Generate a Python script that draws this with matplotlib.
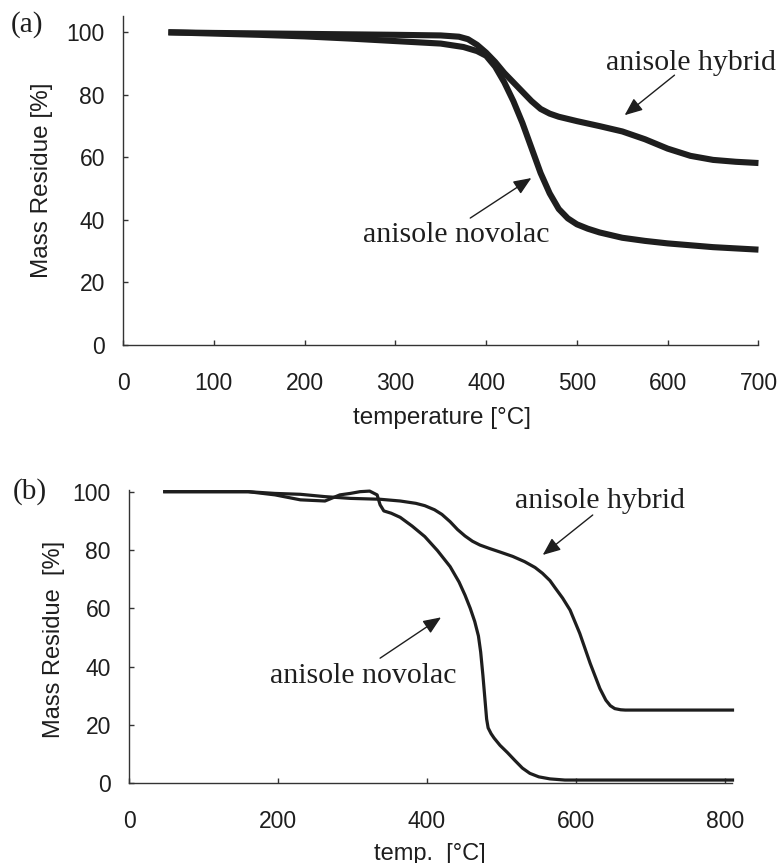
import matplotlib
matplotlib.use("Agg")
import matplotlib.pyplot as plt

# (a) TGA curves
temp_a_novolac = [50, 100, 150, 200, 250, 300, 350, 375, 390, 400, 410, 420, 430, 440, 450,
                  460, 470, 480, 490, 500, 512, 525, 550, 575, 600, 650, 700]
mass_a_novolac = [100, 99.6, 99.2, 98.7, 98.0, 97.2, 96.4, 95.3, 94.0, 92.5, 89.0, 84.0, 78.0, 71.0, 63.0,
                  55.0, 48.5, 43.5, 40.5, 38.6, 37.2, 36.0, 34.3, 33.3, 32.5, 31.3, 30.5]
temp_a_hybrid = [50, 100, 200, 300, 350, 370, 380, 390, 400, 410, 420, 430, 440, 450, 460, 470,
                 480, 490, 500, 525, 550, 575, 600, 625, 650, 675, 700]
mass_a_hybrid = [100, 99.8, 99.5, 99.2, 99.0, 98.6, 97.8, 96.0, 93.5, 90.5, 87.0, 84.0, 81.0, 78.0, 75.5, 74.0,
                 73.0, 72.3, 71.6, 70.0, 68.3, 65.8, 62.8, 60.5, 59.2, 58.6, 58.2]

# (b) TGA curves
temp_b_novolac = [48, 160, 196, 230, 263, 283, 297, 310, 323, 333, 337, 342, 352, 364, 380, 397, 414, 431,
                  443, 451, 458, 464, 469, 472, 475, 478, 480, 482, 486, 490, 498, 508, 518, 528, 538,
                  550, 565, 585, 810]
mass_b_novolac = [100, 100, 98.9, 97.2, 96.8, 98.9, 99.4, 100, 100.2, 98.9, 95.5, 93.4, 92.6, 91.2, 88.2,
                  84.6, 79.8, 74.3, 69.0, 64.5, 60.0, 55.5, 50.5, 45.0, 37.0, 28.0, 22.0, 19.0, 17.0,
                  15.5, 13.0, 10.5, 7.8, 5.2, 3.4, 2.2, 1.5, 1.1, 1.1]
temp_b_hybrid = [48, 160, 196, 230, 263, 297, 337, 364, 385, 397, 410, 420, 431, 441, 451, 461, 471, 484,
                 498, 515, 531, 545, 555, 565, 572, 582, 592, 605, 619, 632, 640, 646, 652, 660, 666, 810]
mass_b_hybrid = [100, 100, 99.4, 99.1, 98.3, 97.7, 97.4, 96.8, 96.0, 95.2, 93.8, 92.2, 89.7, 87.0, 84.8,
                 83.0, 81.7, 80.5, 79.3, 77.8, 76.0, 74.0, 72.0, 69.5, 67.0, 63.5, 59.4, 51.4, 41.1, 32.5,
                 28.5, 26.6, 25.6, 25.2, 25.1, 25.1]

xticks_a = [0, 100, 200, 300, 400, 500, 600, 700]
xticks_b = [0, 200, 400, 600, 800]
yticks = [0, 20, 40, 60, 80, 100]

ink = "#1e1e1e"
sans = "Liberation Sans"
serif = "Liberation Serif"

fig = plt.figure(figsize=(7.8, 8.63), dpi=100)
ax_a = fig.add_axes([0.1577, 0.6002, 0.8147, 0.3812])
ax_b = fig.add_axes([0.1654, 0.0924, 0.7737, 0.3399])


def style(ax, xticks, xmax, ymax):
    ax.set_xlim(0, xmax)
    ax.set_ylim(0, ymax)
    ax.set_xticks(xticks)
    ax.set_yticks(yticks)
    for s in ["top", "right"]:
        ax.spines[s].set_visible(False)
    for s in ["left", "bottom"]:
        ax.spines[s].set_color("#333333")
        ax.spines[s].set_linewidth(1.0)
    ax.tick_params(direction="in", length=3.5, width=1, color="#333333",
                   labelsize=16.5, labelcolor=ink)
    ax.tick_params(axis="x", pad=19.5)
    ax.tick_params(axis="y", pad=13)
    for lab in ax.get_xticklabels() + ax.get_yticklabels():
        lab.set_family(sans)


# panel (a)
ax_a.plot(temp_a_novolac, mass_a_novolac, color=ink, lw=4.4, clip_on=False, solid_capstyle="butt")
ax_a.plot(temp_a_hybrid, mass_a_hybrid, color=ink, lw=4.4, clip_on=False, solid_capstyle="butt")
style(ax_a, xticks_a, 700, 105.2)
ax_a.set_xlabel("temperature [°C]", family=sans, fontsize=17.5, color=ink, va="center")
ax_a.set_ylabel("Mass Residue [%]", family=sans, fontsize=17.5, color=ink, va="center")
ax_a.xaxis.set_label_coords(0.502, -0.222)
ax_a.yaxis.set_label_coords(-0.128, 0.5)

arrow = dict(arrowstyle="-|>,head_length=0.6,head_width=0.25", color=ink, lw=1.0,
             mutation_scale=18, shrinkA=0, shrinkB=0)
ax_a.text(532.5, 87.9, "anisole hybrid", family=serif, fontsize=21.5, color=ink,
          ha="left", va="baseline", clip_on=False)
ax_a.annotate("", xy=(552.6, 73.5), xytext=(607.5, 86.3), arrowprops=arrow)
ax_a.text(264, 32.9, "anisole novolac", family=serif, fontsize=21.5, color=ink,
          ha="left", va="baseline")
ax_a.annotate("", xy=(449.8, 53.4), xytext=(382.5, 40.6), arrowprops=arrow)

# panel (b)
ax_b.plot(temp_b_novolac, mass_b_novolac, color=ink, lw=2.3, clip_on=False)
ax_b.plot(temp_b_hybrid, mass_b_hybrid, color=ink, lw=2.3, clip_on=False)
style(ax_b, xticks_b, 810, 100.6)
ax_b.set_xlabel("temp.  [°C]", family=sans, fontsize=17, color=ink, va="center")
ax_b.set_ylabel("Mass Residue  [%]", family=sans, fontsize=17, color=ink, va="center")
ax_b.xaxis.set_label_coords(0.499, -0.24)
ax_b.yaxis.set_label_coords(-0.125, 0.492)

ax_b.text(518, 94.4, "anisole hybrid", family=serif, fontsize=21.5, color=ink,
          ha="left", va="baseline")
ax_b.annotate("", xy=(555.3, 78.3), xytext=(622.4, 92.0), arrowprops=arrow)
ax_b.text(189, 34.4, "anisole novolac", family=serif, fontsize=21.5, color=ink,
          ha="left", va="baseline")
ax_b.annotate("", xy=(418.8, 56.9), xytext=(337, 42.9), arrowprops=arrow)

fig.text(0.0346, 0.972, "(a)", family=serif, fontsize=21, color=ink, ha="center", va="center")
fig.text(0.0385, 0.430, "(b)", family=serif, fontsize=21, color=ink, ha="center", va="center")

fig.savefig("out.png", dpi=100)
